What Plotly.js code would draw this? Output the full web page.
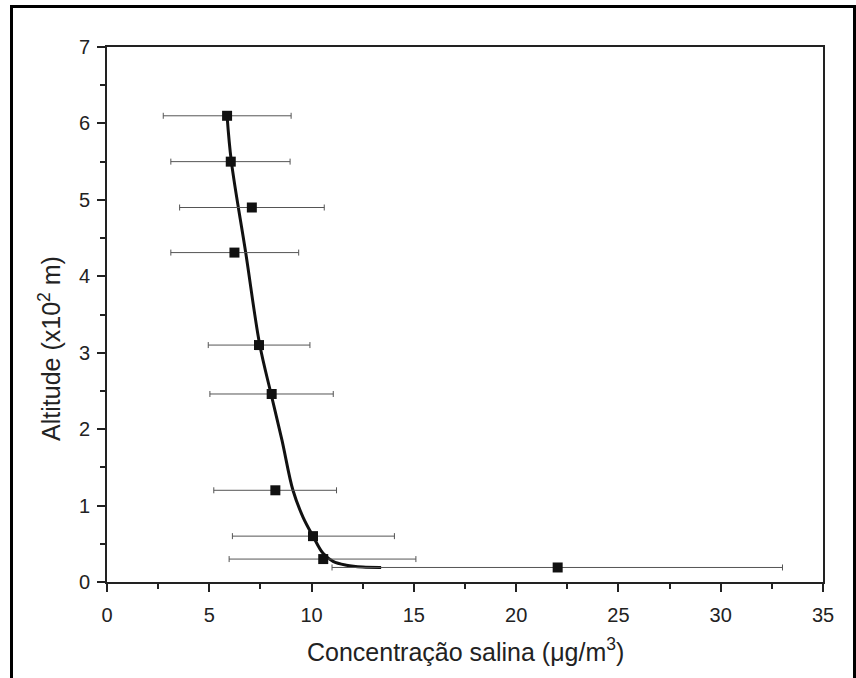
<!DOCTYPE html>
<html>
<head>
<meta charset="utf-8">
<script src="https://cdn.plot.ly/plotly-3.0.1.min.js"></script>
<style>
  html, body { margin: 0; padding: 0; background: #fff; }
  #wrap { position: relative; width: 856px; height: 678px; overflow: hidden; }
  #chart { position: absolute; left: 0; top: 0; width: 856px; height: 678px; }
  #frame { position: absolute; left: 10px; top: 5px; width: 840px; height: 700px;
           border-left: 3px solid #000; border-top: 3px solid #000; border-right: 3px solid #000;
           pointer-events: none; }
</style>
</head>
<body>
<div id="wrap">
  <div id="chart"></div>
  <div id="frame"></div>
</div>
<script>
// Measured points (concentration, altitude x10^2 m)
const conc     = [5.87, 6.05, 7.08, 6.23, 7.43, 8.05, 8.23, 10.07, 10.57, 22.03];
const altitude = [6.10, 5.50, 4.90, 4.31, 3.10, 2.46, 1.20, 0.60, 0.30, 0.19];
const concLow  = [2.75, 3.12, 3.55, 3.12, 4.95, 5.03, 5.22, 6.13, 5.97, 11.0];
const concHigh = [9.00, 8.95, 10.62, 9.37, 9.92, 11.06, 11.22, 14.05, 15.10, 33.02];

// Fitted curve
const fitX = [5.87, 6.08, 6.78, 7.47, 8.02, 8.55, 9.09, 9.58, 10.07, 10.56, 11.05, 11.70, 12.50, 13.40];
const fitY = [6.10, 5.50, 4.31, 3.10, 2.46, 1.86, 1.20, 0.85, 0.60, 0.375, 0.27, 0.22, 0.195, 0.19];

const xTicks = [0, 5, 10, 15, 20, 25, 30, 35];
const yTicks = [0, 1, 2, 3, 4, 5, 6, 7];

const xTitle = 'Concentração salina (μg/m<sup>3</sup>)';
const yTitle = 'Altitude (x10<sup>2</sup> m)';

const errPlus  = concHigh.map((h, i) => h - conc[i]);
const errMinus = conc.map((c, i) => c - concLow[i]);

const font = 'Arial, "Liberation Sans", sans-serif';

const traces = [
  {
    x: fitX, y: fitY, type: 'scatter', mode: 'lines',
    line: { color: '#111', width: 3, shape: 'spline', smoothing: 1 },
    hoverinfo: 'skip', showlegend: false
  },
  {
    x: conc, y: altitude, type: 'scatter', mode: 'markers',
    marker: { symbol: 'square', size: 10, color: '#111' },
    error_x: { type: 'data', symmetric: false, array: errPlus, arrayminus: errMinus,
               color: '#555', thickness: 1, width: 3 },
    showlegend: false
  }
];

const axisCommon = {
  showgrid: false, zeroline: false,
  showline: true, linecolor: '#222', linewidth: 2, mirror: true,
  ticks: 'outside', ticklen: 8, tickwidth: 2, tickcolor: '#222',
  tickfont: { family: font, size: 20, color: '#222' },
  minor: { ticks: 'outside', ticklen: 5, tickwidth: 2, tickcolor: '#222' }
};

const layout = {
  width: 856, height: 678,
  paper_bgcolor: '#fff', plot_bgcolor: '#fff',
  margin: { l: 107, r: 33, t: 47, b: 96 },
  showlegend: false,
  xaxis: Object.assign({}, axisCommon, {
    range: [0, 35], tickmode: 'array', tickvals: xTicks, ticktext: xTicks.map(String),
    ticklabelstandoff: 6,
    minor: Object.assign({}, axisCommon.minor, { dtick: 2.5, tick0: 0 })
  }),
  yaxis: Object.assign({}, axisCommon, {
    range: [0, 7], tickmode: 'array', tickvals: yTicks, ticktext: yTicks.map(String),
    ticklabelstandoff: 3,
    minor: Object.assign({}, axisCommon.minor, { dtick: 0.5, tick0: 0 })
  }),
  annotations: [
    { text: xTitle, xref: 'paper', yref: 'paper', x: 0.5, y: -0.128,
      xanchor: 'center', yanchor: 'middle', showarrow: false,
      font: { family: font, size: 25, color: '#222' } },
    { text: yTitle, xref: 'paper', yref: 'paper', x: -0.08, y: 0.437,
      xanchor: 'center', yanchor: 'middle', showarrow: false, textangle: -90,
      font: { family: font, size: 25, color: '#222' } }
  ]
};

Plotly.newPlot('chart', traces, layout, { displayModeBar: false, staticPlot: true });
</script>
</body>
</html>
